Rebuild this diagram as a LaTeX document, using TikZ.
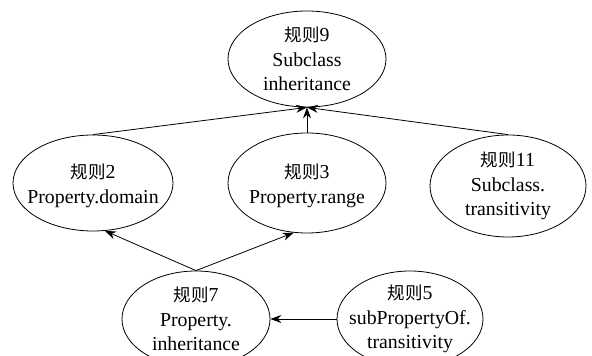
\documentclass[tikz,border=0pt]{standalone}
\usepackage{fontspec}
\setmainfont{Liberation Serif}
\newfontfamily\cjk{Noto Sans CJK SC}
\usetikzlibrary{shapes.geometric,arrows.meta}
\tikzset{
  rule/.style={ellipse,draw,line width=0.8pt,inner sep=0pt},
  txt/.style={inner sep=0pt,align=center,font=\fontsize{19.8}{24.5}\selectfont},
  link/.style={line width=0.8pt,-{Stealth[length=11pt,width=8pt]}}
}
\newcommand{\gz}{{\cjk\fontsize{17.5}{24.5}\selectfont 规则}}
\begin{document}
\begin{tikzpicture}[x=1pt,y=1pt]
\useasboundingbox (0,0) rectangle (592,356);
\clip (0,0) rectangle (592,356);
\node[rule,minimum width=158pt,minimum height=96pt] (r9) at (307,297) {};
\node[txt] (t9) at (r9) {\gz9\\Subclass\\inheritance};
\node[rule,minimum width=160pt,minimum height=96pt] (r2) at (93,173) {};
\node[txt] (t2) at ([yshift=-3pt]r2) {\gz2\\Property.domain};
\node[rule,minimum width=158pt,minimum height=100pt] (r3) at (307,173) {};
\node[txt] (t3) at ([yshift=-3pt]r3) {\gz3\\Property.range};
\node[rule,minimum width=156pt,minimum height=102pt] (r11) at (508,170) {};
\node[txt] (t11) at (r11) {\gz11\\Subclass.\\transitivity};
\node[rule,minimum width=148pt,minimum height=96pt] (r7) at (196,37) {};
\node[txt] (t7) at (r7) {\gz7\\Property.\\inheritance};
\node[rule,minimum width=146pt,minimum height=96pt] (r5) at (410,37) {};
\node[txt] (t5) at (r5) {\gz5\\subPropertyOf.\\transitivity};
\draw[link] (r2.north) -- (r9.south);
\draw[link] (r3.north) -- (r9.south);
\draw[link] (r11.north) -- (r9.south);
\draw[link] (r7.north) -- (r2.-76);
\draw[link] (r7.north) -- (r3.-105);
\draw[link] (r5.west) -- (r7.east);
\end{tikzpicture}
\end{document}
